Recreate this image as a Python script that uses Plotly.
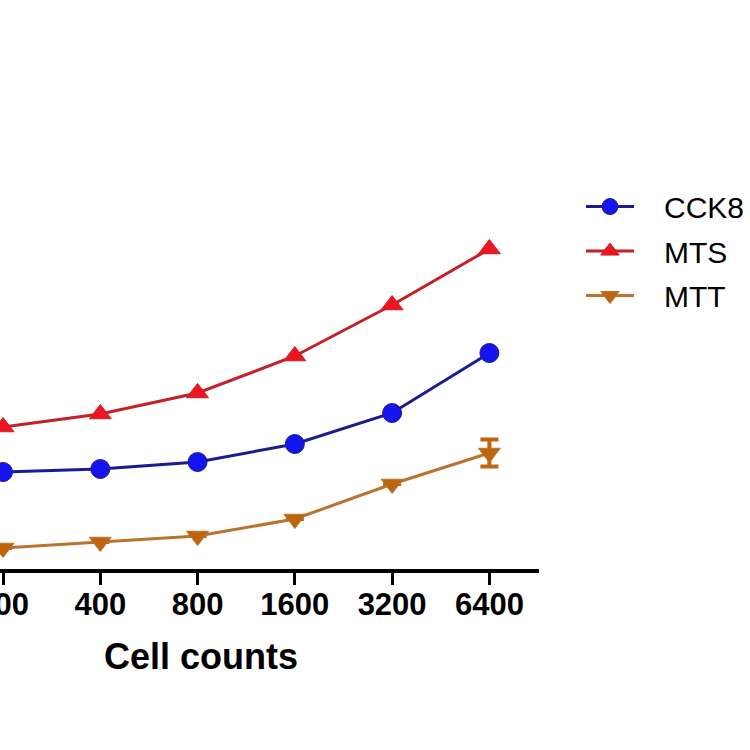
import plotly.graph_objects as go

cell_counts = ["200", "400", "800", "1600", "3200", "6400"]
cck8 = [0.97, 1.00, 1.07, 1.25, 1.56, 2.16]
mts = [1.42, 1.55, 1.76, 2.13, 2.64, 3.20]
mtt = [0.21, 0.27, 0.33, 0.50, 0.85, 1.16]
mtt_err = [0, 0, 0, 0, 0, 0.135]

xpos = list(range(len(cell_counts)))
pad = "\u00a0\u00a0\u00a0"

fig = go.Figure()
fig.add_trace(go.Scatter(
    x=xpos, y=cck8, name=pad + "CCK8", mode="lines+markers", legendgroup="a",
    line=dict(color="#1c1c8e", width=3),
    marker=dict(symbol="circle", size=19, color="#1414ee", line=dict(color="#1c1c8e", width=1)),
))
fig.add_trace(go.Scatter(
    x=xpos, y=mts, name=pad + "MTS", mode="lines+markers", legendgroup="b",
    line=dict(color="#c42029", width=3),
    marker=dict(symbol="triangle-up", size=19, color="#ee1520", line=dict(color="#c42029", width=1)),
))
fig.add_trace(go.Scatter(
    x=xpos, y=mtt, name=pad + "MTT", mode="lines+markers", legendgroup="c",
    line=dict(color="#b8742c", width=3),
    marker=dict(symbol="triangle-down", size=19, color="#c0650f", line=dict(color="#b8742c", width=1)),
    error_y=dict(type="data", array=mtt_err, visible=True, color="#c0650f", thickness=4, width=9),
))

fig.update_layout(
    width=750, height=750,
    margin=dict(l=0, r=210, t=81, b=181),
    paper_bgcolor="white", plot_bgcolor="white",
    font=dict(family="Liberation Sans, Arial, sans-serif", color="black"),
    showlegend=True,
    legend=dict(
        x=1.0778, y=0.796, xanchor="left", yanchor="top",
        font=dict(size=30, color="black"),
        tracegroupgap=2.5, itemwidth=48,
        bgcolor="rgba(0,0,0,0)",
    ),
    annotations=[dict(
        text="<b>Cell counts</b>", xref="paper", yref="paper",
        x=0.3731, y=-0.1783, xanchor="center", yanchor="middle",
        showarrow=False, font=dict(size=36, color="black"),
    )],
)
fig.update_xaxes(
    range=[-0.031, 5.51], tickmode="array", tickvals=xpos, ticktext=cell_counts,
    showline=True, linecolor="black", linewidth=4,
    ticks="outside", ticklen=12, tickwidth=3, tickcolor="black",
    tickfont=dict(size=31, weight="bold", color="black"),
    ticklabelstandoff=-7, ticklabeloverflow="allow",
    showgrid=False, zeroline=False, automargin=False,
)
fig.update_yaxes(
    range=[0, 4.88], visible=False, showgrid=False, zeroline=False,
)

fig.write_html("out.html", config={"displayModeBar": False},
               post_script="document.body.style.margin='0';")
